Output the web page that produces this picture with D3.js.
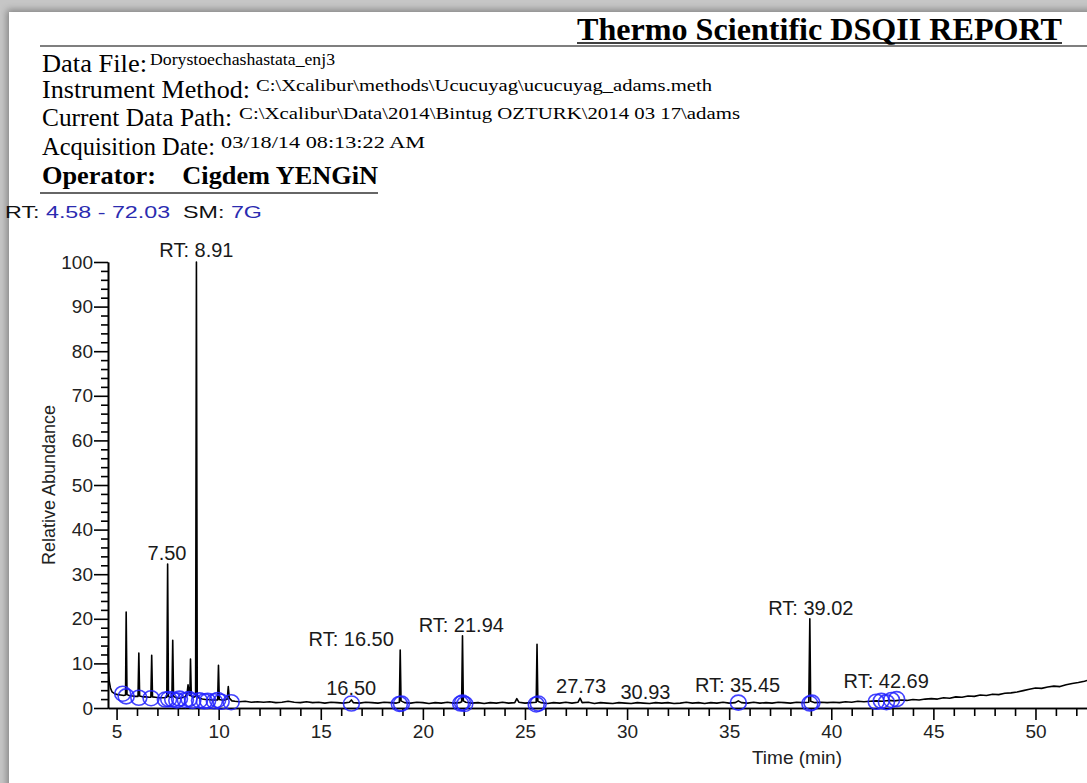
<!DOCTYPE html>
<html>
<head>
<meta charset="utf-8">
<script src="https://cdn.jsdelivr.net/npm/d3@7"></script>
<style>
  body { margin: 0; width: 1087px; height: 783px; overflow: hidden; position: relative; background: #c6c6c6; }
  #page { position: absolute; left: 9px; top: 12px; width: 1200px; height: 900px; background: #fff;
          box-shadow: 0 0 7px 2px rgba(0,0,0,0.35); }
  svg { position: absolute; left: 0; top: 0; }
</style>
</head>
<body>
<div id="page"></div>
<div id="chart"></div>
<script>
// Report header
const reportTitle = "Thermo Scientific DSQII REPORT";
const headerLabels = ["Data File:", "Instrument Method:", "Current Data Path:", "Acquisition Date:"];
const headerValues = [
    "Dorystoechashastata_enj3",
    "C:\\Xcalibur\\methods\\Ucucuyag\\ucucuyag_adams.meth",
    "C:\\Xcalibur\\Data\\2014\\Bintug OZTURK\\2014 03 17\\adams",
    "03/18/14 08:13:22 AM"
];
const operatorLine = "Operator:    Cigdem YENGiN";
const rangeParts = ["RT: ", "4.58 - 72.03", "  SM: ", "7G"];

// Chromatogram trace (time in min, relative abundance in %)
const traceTime = [
    4.58, 4.60, 4.64, 4.70, 4.78, 4.90, 5.05, 5.20, 5.35, 5.44, 5.47, 5.51, 5.62, 5.78, 5.92,
    6.05, 6.09, 6.13, 6.28, 6.45, 6.60, 6.68, 6.72, 6.76, 6.90, 7.05, 7.20, 7.35, 7.46, 7.50,
    7.54, 7.62, 7.71, 7.75, 7.79, 7.92, 8.05, 8.20, 8.35, 8.45, 8.50, 8.55, 8.59, 8.62, 8.66,
    8.78, 8.87, 8.91, 8.95, 9.05, 9.20, 9.35, 9.50, 9.65, 9.80, 9.95, 9.99, 10.03, 10.15, 10.30,
    10.42, 10.47, 10.52, 10.65, 10.80, 11.0, 11.3, 11.6, 11.9, 12.2, 12.5, 12.8, 13.1, 13.4, 13.7,
    14.0, 14.3, 14.6, 14.9, 15.2, 15.5, 15.8, 16.1, 16.4, 16.5, 16.6, 16.9, 17.2, 17.5, 17.8,
    18.1, 18.4, 18.7, 18.85, 18.89, 18.93, 19.1, 19.4, 19.7, 20.0, 20.3, 20.6, 20.9, 21.2, 21.5,
    21.8, 21.90, 21.94, 21.98, 22.1, 22.4, 22.7, 23.0, 23.3, 23.6, 23.9, 24.2, 24.5, 24.6, 24.7,
    25.0, 25.3, 25.55, 25.59, 25.63, 25.8, 26.1, 26.4, 26.7, 27.0, 27.3, 27.6, 27.7, 27.8, 28.1,
    28.4, 28.7, 29.0, 29.3, 29.6, 29.9, 30.2, 30.5, 30.8, 31.1, 31.4, 31.7, 32.0, 32.3, 32.6,
    32.9, 33.2, 33.5, 33.8, 34.1, 34.4, 34.7, 35.0, 35.3, 35.45, 35.6, 35.9, 36.2, 36.5, 36.8,
    37.1, 37.4, 37.7, 38.0, 38.3, 38.6, 38.9, 38.95, 38.99, 39.2, 39.5, 39.8, 40.1, 40.4, 40.7,
    41.0, 41.3, 41.6, 41.9, 42.2, 42.5, 42.8, 43.1, 43.4, 43.7, 44.0, 44.3, 44.6, 44.9, 45.2,
    45.5, 45.8, 46.1, 46.4, 46.7, 47.0, 47.3, 47.6, 47.9, 48.2, 48.5, 48.8, 49.1, 49.4, 49.7,
    50.0, 50.3, 50.6, 50.9, 51.2, 51.5, 51.8, 52.1, 52.4, 52.7, 53.0, 53.2
];
const traceAbund = [
    13.5, 9.0, 6.0, 4.5, 3.6, 3.2, 3.0, 2.9, 2.8, 2.9, 21.5, 3.0, 2.8, 2.7, 2.6,
    2.6, 12.3, 2.7, 2.5, 2.5, 2.4, 2.4, 11.8, 2.5, 2.4, 2.3, 2.3, 2.3, 2.4, 32.3,
    2.6, 2.4, 2.5, 15.2, 2.6, 2.3, 2.2, 2.3, 2.5, 3.2, 5.2, 3.5, 2.8, 11.0, 2.7,
    2.4, 2.6, 100, 2.8, 2.2, 2.0, 1.9, 1.9, 1.8, 1.8, 1.8, 9.6, 1.9, 1.8, 1.8,
    2.0, 4.8, 2.2, 1.6, 1.5, 1.4, 1.5, 1.3, 1.4, 1.3, 1.4, 1.2, 1.3, 1.5, 1.3,
    1.2, 1.4, 1.2, 1.3, 1.1, 1.3, 1.2, 1.1, 1.3, 1.8, 1.2, 1.1, 1.3, 1.2, 1.1,
    1.3, 1.2, 1.1, 1.3, 13.0, 1.6, 1.2, 1.1, 1.3, 1.2, 1.0, 1.2, 1.1, 1.3, 1.1,
    1.2, 1.4, 16.2, 1.6, 1.3, 1.1, 1.2, 1.0, 1.2, 1.1, 1.3, 1.1, 1.2, 2.1, 1.3,
    1.1, 1.2, 1.3, 14.3, 1.5, 1.2, 1.0, 1.2, 1.1, 1.3, 1.1, 1.3, 2.2, 1.2, 1.3,
    1.0, 1.2, 1.1, 1.0, 1.2, 1.1, 1.0, 1.2, 1.1, 1.0, 1.2, 1.1, 1.2, 1.0, 1.1,
    1.3, 1.1, 1.2, 1.0, 1.2, 1.1, 1.3, 1.1, 1.2, 1.6, 1.2, 1.1, 1.3, 1.1, 1.2,
    1.1, 1.3, 1.2, 1.1, 1.3, 1.2, 1.3, 20.0, 1.5, 1.2, 1.3, 1.2, 1.3, 1.2, 1.4,
    1.3, 1.5, 1.4, 1.5, 1.6, 1.5, 1.7, 1.6, 1.8, 1.7, 1.9, 1.8, 2.0, 2.1, 2.0,
    2.3, 2.2, 2.5, 2.4, 2.7, 2.6, 2.9, 2.8, 3.1, 3.0, 3.3, 3.4, 3.6, 3.9, 4.2,
    4.5, 4.4, 4.7, 4.9, 4.8, 5.2, 5.5, 5.7, 6.0, 6.4, 6.6, 7.0
];

// Detected peak markers (blue circles)
const markerTime = [
    5.30, 5.47, 6.09, 6.69, 7.39, 7.55, 7.75, 7.95, 8.08, 8.37, 8.55, 8.73, 9.06, 9.30, 9.46,
    9.79, 9.95, 10.12, 10.61, 16.50, 18.85, 18.95, 21.85, 21.94, 22.05, 25.55, 25.65, 35.45,
    38.95, 39.05, 42.20, 42.45, 42.70, 42.95, 43.20
];
const markerAbund = [
    3.2, 2.6, 2.3, 2.2, 1.9, 2.0, 1.9, 1.7, 2.1, 1.8, 2.0, 1.6, 1.7, 1.5, 1.6,
    1.5, 1.8, 1.4, 1.3, 1.0, 0.9, 1.0, 1.0, 1.2, 0.9, 0.8, 1.0, 1.2,
    1.0, 1.2, 1.4, 1.6, 1.3, 1.8, 2.0
];

// Peak annotations
const labelText = ["RT: 8.91", "7.50", "RT: 16.50", "16.50", "RT: 21.94", "27.73", "30.93", "RT: 35.45", "RT: 39.02", "RT: 42.69"];
const labelTime = [8.91, 7.47, 16.49, 16.49, 21.88, 27.75, 30.90, 35.41, 39.00, 42.69];
const labelAbund = [101.2, 33.2, 13.9, 2.9, 17.1, 3.4, 2.0, 3.6, 20.9, 4.5];

// Axis ticks (only the part of the time axis that fits on the page)
const yMajor = d3.range(0, 101, 10);
const yMinor = d3.range(0, 101, 2).filter(v => v % 10 !== 0);
const xMajor = [5, 10, 15, 20, 25, 30, 35, 40, 45, 50];
const xMinor = d3.range(5, 54, 1).filter(v => v % 5 !== 0);

const W = 1087, H = 783;
const svg = d3.select("#chart").append("svg")
    .attr("width", W)
    .attr("height", H);

// ---- header ----
const serif = "'Liberation Serif', 'Times New Roman', serif";
const sans = "'Liberation Sans', Arial, sans-serif";

svg.append("text")
    .attr("x", 1062).attr("y", 40)
    .attr("text-anchor", "end")
    .attr("font-family", serif).attr("font-weight", "bold").attr("font-size", 32)
    .attr("textLength", 485).attr("lengthAdjust", "spacingAndGlyphs")
    .text(reportTitle);
svg.append("line")
    .attr("x1", 577).attr("x2", 1062).attr("y1", 43).attr("y2", 43)
    .attr("stroke", "#000").attr("stroke-width", 1.5);
svg.append("line")
    .attr("x1", 40).attr("x2", W).attr("y1", 46).attr("y2", 46)
    .attr("stroke", "#555").attr("stroke-width", 1.5);

const labelBase = [72, 98, 126, 155];
const labelWidth = [105, 208, 190, 173];
const valueX = [150, 256, 239, 221];
const valueWidth = [185, 456, 501, 204];

headerLabels.forEach((t, i) => {
    svg.append("text")
        .attr("x", 42).attr("y", labelBase[i])
        .attr("font-family", serif).attr("font-size", 25)
        .attr("textLength", labelWidth[i]).attr("lengthAdjust", "spacingAndGlyphs")
        .text(t);
    svg.append("text")
        .attr("x", valueX[i]).attr("y", labelBase[i] - 7)
        .attr("font-family", serif).attr("font-size", 16.5)
        .attr("textLength", valueWidth[i]).attr("lengthAdjust", "spacingAndGlyphs")
        .text(headerValues[i]);
});

svg.append("text")
    .attr("x", 42).attr("y", 184)
    .attr("font-family", serif).attr("font-weight", "bold").attr("font-size", 25)
    .attr("textLength", 336).attr("lengthAdjust", "spacingAndGlyphs")
    .attr("xml:space", "preserve")
    .text(operatorLine);
svg.append("line")
    .attr("x1", 40).attr("x2", 378).attr("y1", 193).attr("y2", 193)
    .attr("stroke", "#333").attr("stroke-width", 1.5);

const rangeColor = ["#111", "#2b2bb0", "#111", "#2b2bb0"];
const rangeText = svg.append("text")
    .attr("x", 5).attr("y", 218)
    .attr("font-family", sans).attr("font-size", 17)
    .attr("xml:space", "preserve")
    .attr("textLength", 257).attr("lengthAdjust", "spacingAndGlyphs");
rangeParts.forEach((t, i) => {
    rangeText.append("tspan").attr("fill", rangeColor[i]).text(t);
});

// ---- chart ----
const x = d3.scaleLinear()
    .domain([4.58, 72.03])
    .range([108, 108 + (72.03 - 4.58) * 20.42]);
const y = d3.scaleLinear()
    .domain([0, 100])
    .range([708, 262]);

const plot = svg.append("g").attr("font-family", sans);

// Axes
plot.append("g")
    .attr("transform", "translate(" + x(4.58) + ",0)")
    .call(d3.axisLeft(y).tickValues(yMajor).tickSize(14).tickSizeOuter(0).tickPadding(1));
plot.append("g")
    .attr("transform", "translate(" + x(4.58) + ",0)")
    .call(d3.axisLeft(y).tickValues(yMinor).tickSize(7).tickSizeOuter(0).tickFormat(""));

plot.append("g")
    .attr("transform", "translate(0," + y(0) + ")")
    .call(d3.axisBottom(x).tickValues(xMajor).tickSize(12).tickSizeOuter(0).tickPadding(5));
plot.append("g")
    .attr("transform", "translate(0," + y(0) + ")")
    .call(d3.axisBottom(x).tickValues(xMinor).tickSize(8).tickSizeOuter(0).tickFormat(""));

plot.selectAll(".domain, .tick line").attr("stroke", "#000").attr("stroke-width", 1.6);
plot.selectAll(".tick text").attr("font-size", 19).attr("fill", "#222");

// Axis titles
plot.append("text")
    .attr("transform", "translate(55,485) rotate(-90)")
    .attr("text-anchor", "middle")
    .attr("font-size", 18).attr("fill", "#222")
    .text("Relative Abundance");
plot.append("text")
    .attr("x", 797).attr("y", 764)
    .attr("text-anchor", "middle")
    .attr("font-size", 19).attr("fill", "#222")
    .text("Time (min)");

// Trace
const trace = traceTime.map((t, i) => ({t: t, v: traceAbund[i]}));
plot.append("path")
    .datum(trace)
    .attr("fill", "none")
    .attr("stroke", "#000")
    .attr("stroke-width", 1.6)
    .attr("stroke-linejoin", "round")
    .attr("d", d3.line().x(d => x(d.t)).y(d => y(d.v)));

// Peak markers
plot.selectAll("ellipse.marker")
    .data(markerTime.map((t, i) => ({t: t, v: markerAbund[i]})))
    .enter().append("ellipse")
    .attr("class", "marker")
    .attr("cx", d => x(d.t))
    .attr("cy", d => y(d.v))
    .attr("rx", 8).attr("ry", 7.5)
    .attr("fill", "none")
    .attr("stroke", "#2222ff")
    .attr("stroke-opacity", 0.85)
    .attr("stroke-width", 1.6);

// Peak labels
plot.selectAll("text.peak")
    .data(labelText.map((t, i) => ({text: t, t: labelTime[i], v: labelAbund[i]})))
    .enter().append("text")
    .attr("class", "peak")
    .attr("x", d => x(d.t))
    .attr("y", d => y(d.v))
    .attr("text-anchor", "middle")
    .attr("font-size", 20)
    .attr("fill", "#1a1a1a")
    .text(d => d.text);
</script>
</body>
</html>
